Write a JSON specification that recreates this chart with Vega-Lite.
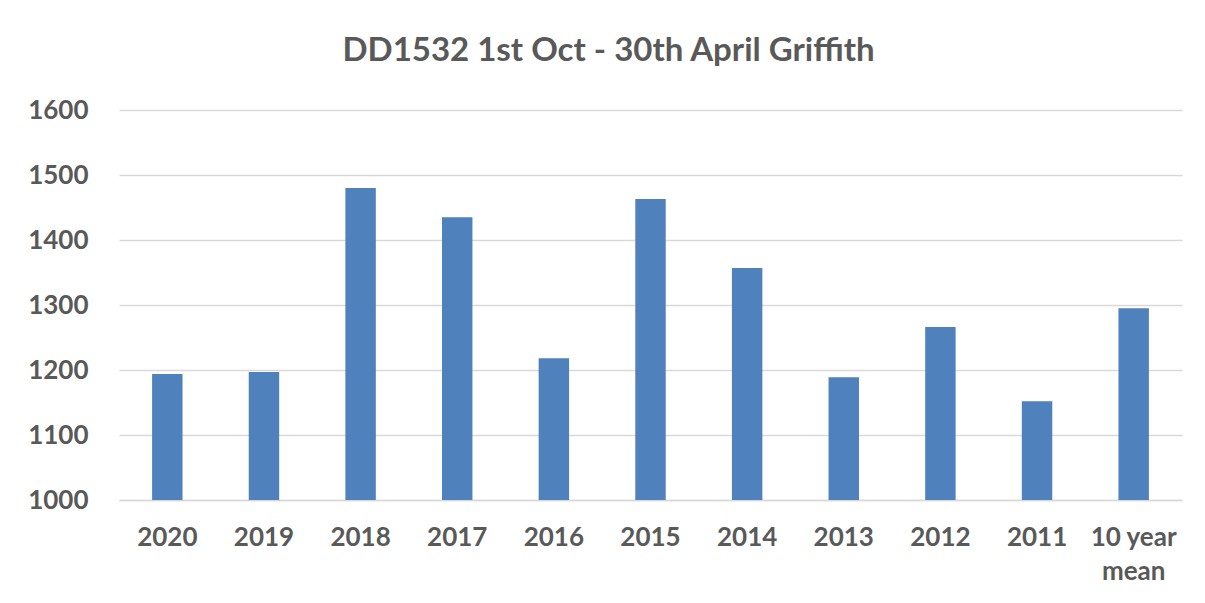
{
  "$schema": "https://vega.github.io/schema/vega-lite/v6.json",
  "autosize": "none",
  "width": 1063,
  "height": 390,
  "padding": {"left": 119, "top": 110, "right": 23, "bottom": 103},
  "background": "white",
  "title": {
    "text": "DD1532 1st Oct - 30th April Griffith",
    "font": "Lato",
    "fontWeight": "bold",
    "fontSize": 33,
    "color": "#595959",
    "anchor": "middle",
    "dx": -42,
    "offset": 29
  },
  "data": {
    "values": [
      {"year": "2020", "dd": 1194},
      {"year": "2019", "dd": 1197},
      {"year": "2018", "dd": 1480},
      {"year": "2017", "dd": 1435},
      {"year": "2016", "dd": 1218},
      {"year": "2015", "dd": 1463},
      {"year": "2014", "dd": 1357},
      {"year": "2013", "dd": 1189},
      {"year": "2012", "dd": 1266},
      {"year": "2011", "dd": 1152},
      {"year": "10 year mean", "dd": 1295}
    ]
  },
  "mark": {"type": "bar", "color": "#4F81BD"},
  "encoding": {
    "x": {
      "field": "year",
      "type": "nominal",
      "sort": null,
      "scale": {"paddingInner": 0.685, "paddingOuter": 0.3425},
      "axis": {
        "title": null,
        "labelAngle": 0,
        "ticks": false,
        "domain": true,
        "domainColor": "#D9D9D9",
        "domainWidth": 1.5,
        "labelFont": "Lato",
        "labelFontWeight": "bold",
        "labelFontSize": 26,
        "labelColor": "#595959",
        "labelPadding": 24,
        "labelLineHeight": 34,
        "labelExpr": "datum.label == '10 year mean' ? ['10 year', 'mean'] : datum.label"
      }
    },
    "y": {
      "field": "dd",
      "type": "quantitative",
      "scale": {"domain": [1000, 1600], "zero": false},
      "axis": {
        "title": null,
        "format": "d",
        "values": [1000, 1100, 1200, 1300, 1400, 1500, 1600],
        "ticks": false,
        "domain": false,
        "grid": true,
        "gridColor": "#D9D9D9",
        "gridWidth": 1.5,
        "labelFont": "Lato",
        "labelFontWeight": "bold",
        "labelFontSize": 26,
        "labelColor": "#595959",
        "labelPadding": 31
      }
    },
    "y2": {"datum": 1000}
  },
  "config": {"view": {"stroke": null}}
}
